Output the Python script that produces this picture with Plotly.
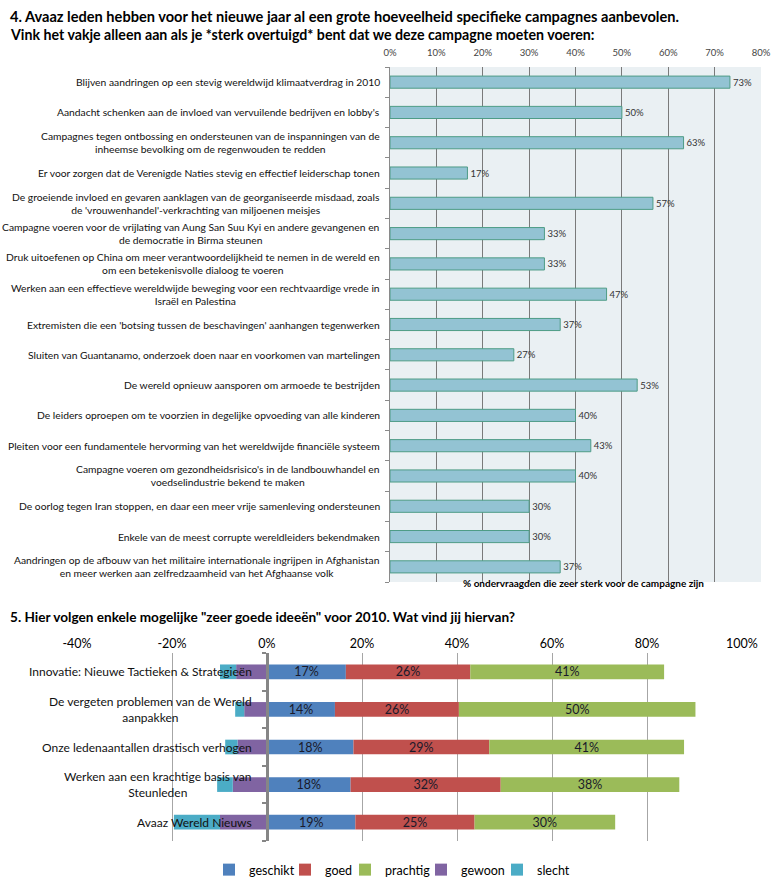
import plotly.graph_objects as go

FONT = "Lato, Carlito, sans-serif"

# ---- Chart 4 data ----
campaigns = [
    "Blijven aandringen op een stevig wereldwijd klimaatverdrag in 2010",
    "Aandacht schenken aan de invloed van vervuilende bedrijven en lobby's",
    "Campagnes tegen ontbossing en ondersteunen van de inspanningen van de<br>inheemse bevolking om de regenwouden te redden",
    "Er voor zorgen dat de Verenigde Naties stevig en effectief leiderschap tonen",
    "De groeiende invloed en gevaren aanklagen van de georganiseerde misdaad, zoals<br>de 'vrouwenhandel'-verkrachting van miljoenen meisjes",
    "Campagne voeren voor de vrijlating van Aung San Suu Kyi en andere gevangenen en<br>de democratie in Birma steunen",
    "Druk uitoefenen op China om meer verantwoordelijkheid te nemen in de wereld en<br>om een betekenisvolle dialoog te voeren",
    "Werken aan een effectieve wereldwijde beweging voor een rechtvaardige vrede in<br>Israël en Palestina",
    "Extremisten die een 'botsing tussen de beschavingen' aanhangen tegenwerken",
    "Sluiten van Guantanamo, onderzoek doen naar en voorkomen van martelingen",
    "De wereld opnieuw aansporen om armoede te bestrijden",
    "De leiders oproepen om te voorzien in degelijke opvoeding van alle kinderen",
    "Pleiten voor een fundamentele hervorming van het wereldwijde financiële systeem",
    "Campagne voeren om gezondheidsrisico's in de landbouwhandel en<br>voedselindustrie bekend te maken",
    "De oorlog tegen Iran stoppen, en daar een meer vrije samenleving ondersteunen",
    "Enkele van de meest corrupte wereldleiders bekendmaken",
    "Aandringen op de afbouw van het militaire internationale ingrijpen in Afghanistan<br>en meer werken aan zelfredzaamheid van het Afghaanse volk",
]
support = [73.3, 50.0, 63.3, 16.7, 56.7, 33.3, 33.3, 46.7, 36.7, 26.7,
           53.3, 40.0, 43.3, 40.0, 30.0, 30.0, 36.7]
top_ticks = [0, 10, 20, 30, 40, 50, 60, 70, 80]

# ---- Chart 5 data ----
ideas = [
    "Innovatie: Nieuwe Tactieken & Strategieën",
    "De vergeten problemen van de Wereld<br>aanpakken",
    "Onze ledenaantallen drastisch verhogen",
    "Werken aan een krachtige basis van<br>Steunleden",
    "Avaaz Wereld Nieuws",
]
geschikt = [16.6, 14.3, 18.2, 17.6, 18.6]
goed = [26.2, 26.1, 28.6, 31.6, 25.1]
prachtig = [40.8, 49.8, 41.0, 37.6, 29.6]
gewoon = [6.5, 4.8, 6.2, 7.2, 9.9]
slecht = [3.4, 1.9, 2.6, 3.3, 9.7]
bottom_ticks = [-40, -20, 0, 20, 40, 60, 80, 100]

W, H = 773, 885

fig = go.Figure()

fig.add_trace(go.Bar(
    x=support, y=campaigns, orientation="h",
    marker=dict(color="#93C3D3", line=dict(color="#4E9C86", width=1)),
    text=[f"{v:.0f}%" for v in support], textposition="outside",
    textfont=dict(family=FONT, size=9.5, color="#333333"),
    constraintext="none",
    cliponaxis=False, showlegend=False, width=0.4,
    xaxis="x", yaxis="y",
))

# name, values, colour, sign, labelled, legend id, legend text start (px)
series = [
    ("geschikt", geschikt, "#4F81BD", 1, True, "legend", 249),
    ("goed", goed, "#C0504D", 1, True, "legend2", 325),
    ("prachtig", prachtig, "#9BBB59", 1, True, "legend3", 385),
    ("gewoon", gewoon, "#8064A2", -1, False, "legend4", 461),
    ("slecht", slecht, "#4BACC6", -1, False, "legend5", 537),
]
legends = {}
for name, vals, col, sign, lab, lg, tx in series:
    fig.add_trace(go.Bar(
        x=[sign * v for v in vals], y=ideas, orientation="h", name=name,
        marker=dict(color=col, line=dict(width=0)),
        text=[f"{v:.0f}%" for v in vals] if lab else None,
        textposition="inside" if lab else "none",
        insidetextanchor="middle", constraintext="none",
        textfont=dict(family=FONT, size=12.5, color="#1a1a2a"),
        width=0.39, xaxis="x2", yaxis="y2", legend=lg,
    ))
    legends[lg] = dict(orientation="h", x=(tx - 40) / W, xanchor="left",
                       y=1 - 870 / H, yanchor="middle", font=dict(size=12.5),
                       itemwidth=30, bgcolor="rgba(0,0,0,0)")

top_x = [390 / W, 761 / W]
top_y = [1 - 582 / H, 1 - 67 / H]
bot_x = [77 / W, 742 / W]
bot_y = [1 - 841 / H, 1 - 653 / H]

fig.update_layout(
    width=W, height=H, margin=dict(l=0, r=0, t=0, b=0, autoexpand=False),
    paper_bgcolor="white", plot_bgcolor="white",
    font=dict(family=FONT, color="#000000"),
    barmode="relative",
    xaxis=dict(domain=top_x, anchor="y", side="top", range=[0, 80],
               tickvals=top_ticks, ticktext=[f"{t}%" for t in top_ticks],
               tickfont=dict(size=9.5, color="#444444"), automargin=False,
               ticklabelstandoff=8,
               showgrid=True, gridcolor="#7A7A7A", gridwidth=1,
               zeroline=False, showline=False, ticks="", fixedrange=True),
    yaxis=dict(domain=top_y, anchor="x", type="category", automargin=False,
               categoryorder="array", categoryarray=campaigns[::-1],
               showticklabels=False, showline=True, linecolor="#8A8A8A",
               ticks="outside", tickson="boundaries", ticklen=4,
               tickcolor="#8A8A8A", showgrid=False),
    xaxis2=dict(domain=bot_x, anchor="y2", side="top", range=[-40, 100],
                tickvals=bottom_ticks, ticktext=[f"{t}%" for t in bottom_ticks],
                tickfont=dict(size=12.5, color="#000000"), automargin=False,
                ticklabelstandoff=2,
                showgrid=True, gridcolor="#A6A6A6", gridwidth=1,
                zeroline=False, showline=False, ticks=""),
    yaxis2=dict(domain=bot_y, anchor="free", position=267 / W, type="category",
                automargin=False,
                categoryorder="array", categoryarray=ideas[::-1],
                showticklabels=False, showline=True, linecolor="#868686",
                linewidth=3, ticks="outside", tickson="boundaries", ticklen=4,
                tickwidth=2, tickcolor="#868686", showgrid=False),
    **legends,
)

fig.add_shape(type="rect", xref="x domain", yref="y domain", x0=0, x1=1, y0=0, y1=1,
              fillcolor="#EAF0F3", line=dict(width=0), layer="below")

ann = []
ann.append(dict(text="<b>4. Avaaz leden hebben voor het nieuwe jaar al een grote hoeveelheid specifieke campagnes aanbevolen.</b>",
                x=8 / W, y=1 - 17 / H, xref="paper", yref="paper", xanchor="left", yanchor="middle",
                showarrow=False, font=dict(size=14.6)))
ann.append(dict(text="<b>Vink het vakje alleen aan als je *sterk overtuigd* bent dat we deze campagne moeten voeren:</b>",
                x=8 / W, y=1 - 35 / H, xref="paper", yref="paper", xanchor="left", yanchor="middle",
                showarrow=False, font=dict(size=14.2)))
ann.append(dict(text="<b>% ondervraagden die zeer sterk voor de campagne zijn</b>",
                x=583 / W, y=1 - 583 / H, xref="paper", yref="paper", xanchor="center", yanchor="middle",
                showarrow=False, font=dict(size=10)))
ann.append(dict(text="<b>5. Hier volgen enkele mogelijke \"zeer goede ideeën\" voor 2010. Wat vind jij hiervan?</b>",
                x=8 / W, y=1 - 617 / H, xref="paper", yref="paper", xanchor="left", yanchor="middle",
                showarrow=False, font=dict(size=13.6)))
for c in campaigns:
    ann.append(dict(text=c, x=382 / W, y=c, xref="paper", yref="y", xanchor="right",
                    yanchor="middle", align="center", showarrow=False,
                    font=dict(size=10.3, color="#111111")))
for c in ideas:
    ann.append(dict(text=c, x=254 / W, y=c, xref="paper", yref="y2", xanchor="right",
                    yanchor="middle", align="center", showarrow=False,
                    font=dict(size=12, color="#111111")))
fig.update_layout(annotations=ann)

fig.write_html("out.html", config={"displayModeBar": False},
               post_script="document.body.style.margin='0';")
